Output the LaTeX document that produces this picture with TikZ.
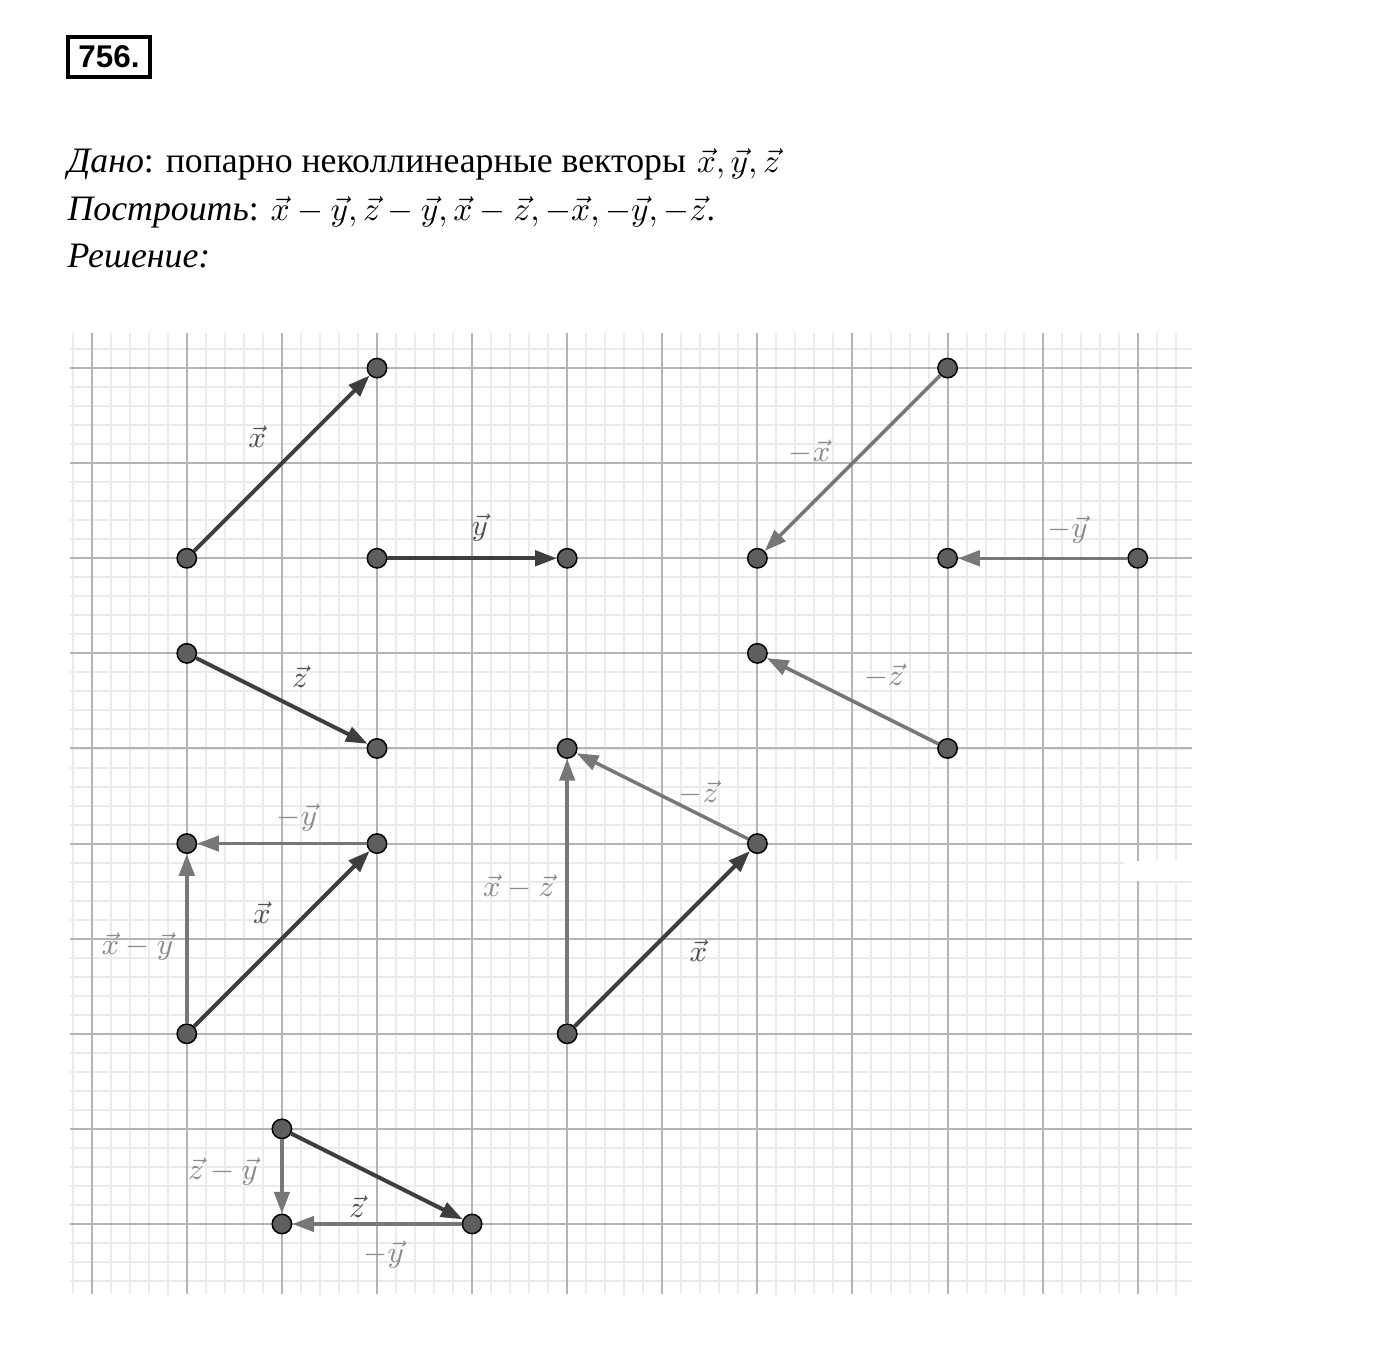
\documentclass[tikz,border=0pt]{standalone}
\usepackage{fontspec}
\setmainfont{Liberation Serif}
\newfontfamily\boxfont{Liberation Sans}
\usetikzlibrary{arrows.meta}
\definecolor{dk}{HTML}{3E3E3E}
\definecolor{lt}{HTML}{777777}
\definecolor{dklab}{HTML}{505050}
\definecolor{ltlab}{HTML}{8A8A8A}
\definecolor{ptc}{HTML}{5E5E5E}
\definecolor{minorc}{HTML}{EBEBEB}
\definecolor{majorc}{HTML}{B4B4B4}
\newcommand{\mathsz}{\fontsize{10.2}{12}\selectfont}
\tikzset{
  pnt/.style={circle, fill=ptc, draw=black, line width=0.45pt, inner sep=0pt, minimum size=5.8pt},
  dvec/.style={draw=dk, line width=1.2pt, -{Triangle[length=6.5pt,width=4.6pt]}},
  lvec/.style={draw=lt, line width=1.05pt, -{Triangle[length=6.5pt,width=4.6pt]}},
  dlab/.style={text=dklab, inner sep=0pt, font=\fontsize{8.8}{10}\selectfont},
  llab/.style={text=ltlab, inner sep=0pt, font=\fontsize{8.8}{10}\selectfont},
  minorgrid/.style={draw=minorc, line width=0.6pt},
  majorgrid/.style={draw=majorc, line width=0.6pt},
  headtext/.style={anchor=base west, inner sep=0pt, font=\fontsize{10.7}{12}\selectfont},
}
\begin{document}
\begin{tikzpicture}
\useasboundingbox[fill=white] (-0.9643,-1.4932) rectangle (13.7574,12.8707);
% header
\draw[line width=0.95pt] (-0.249,12.061) rectangle (0.613,12.482);
\node[inner sep=0pt, font=\boxfont\bfseries\fontsize{9.4}{10}\selectfont] (num) at (0.182,12.271) {756.};
\node[headtext] (l1) at (-0.26,11.062) {\textit{Дано}: попарно неколлинеарные векторы\hspace{0.3em}{\mathsz$\vec{x},\vec{y},\vec{z}$}};
\node[headtext] (l2) at (-0.26,10.557) {\textit{Построить}: {\mathsz$\vec{x}-\vec{y},\vec{z}-\vec{y},\vec{x}-\vec{z},-\vec{x},-\vec{y},-\vec{z}$.}};
\node[headtext] (l3) at (-0.26,10.053) {\textit{Решение:}};
% grid
\begin{scope}
\clip (-0.228,-0.736) rectangle (11.570,9.359);
\draw[minorgrid, step=0.2] (-0.4,-0.8) grid (11.8,9.6);
\draw[majorgrid, step=1] (-0.4,-0.8) grid (11.8,9.6);
\end{scope}
\fill[white] (10.854,3.607) rectangle (11.570,3.817);
% points
\node[pnt] (a1) at (1,7) {};
\node[pnt] (a2) at (3,9) {};
\node[pnt] (b1) at (3,7) {};
\node[pnt] (b2) at (5,7) {};
\node[pnt] (c1) at (9,9) {};
\node[pnt] (c2) at (7,7) {};
\node[pnt] (d1) at (11,7) {};
\node[pnt] (d2) at (9,7) {};
\node[pnt] (e1) at (1,6) {};
\node[pnt] (e2) at (3,5) {};
\node[pnt] (f1) at (9,5) {};
\node[pnt] (f2) at (7,6) {};
\node[pnt] (g1) at (1,2) {};
\node[pnt] (g2) at (3,4) {};
\node[pnt] (g3) at (1,4) {};
\node[pnt] (h1) at (5,2) {};
\node[pnt] (h2) at (7,4) {};
\node[pnt] (h3) at (5,5) {};
\node[pnt] (k1) at (2,1) {};
\node[pnt] (k2) at (4,0) {};
\node[pnt] (k3) at (2,0) {};
% vectors
\draw[dvec] (a1) -- (a2);
\draw[dvec] (b1) -- (b2);
\draw[lvec] (c1) -- (c2);
\draw[lvec] (d1) -- (d2);
\draw[dvec] (e1) -- (e2);
\draw[lvec] (f1) -- (f2);
\draw[dvec] (g1) -- (g2);
\draw[lvec] (g2) -- (g3);
\draw[lvec] (g1) -- (g3);
\draw[dvec] (h1) -- (h2);
\draw[lvec] (h2) -- (h3);
\draw[lvec] (h1) -- (h3);
\draw[dvec] (k1) -- (k2);
\draw[lvec] (k2) -- (k3);
\draw[lvec] (k1) -- (k3);
% labels
\node[dlab] (la) at (1.74,8.28) {$\vec{x}$};
\node[dlab] (lb) at (4.08,7.32) {$\vec{y}$};
\node[llab] (lc) at (7.55,8.12) {$-\vec{x}$};
\node[llab] (ld) at (10.26,7.30) {$-\vec{y}$};
\node[dlab] (le) at (2.19,5.75) {$\vec{z}$};
\node[llab] (lf) at (8.33,5.76) {$-\vec{z}$};
\node[llab] (lg1) at (2.16,4.27) {$-\vec{y}$};
\node[dlab] (lg2) at (1.79,3.27) {$\vec{x}$};
\node[llab] (lg3) at (0.48,2.92) {$\vec{x}-\vec{y}$};
\node[llab] (lh1) at (6.38,4.53) {$-\vec{z}$};
\node[llab] (lh2) at (4.49,3.54) {$\vec{x}-\vec{z}$};
\node[dlab] (lh3) at (6.38,2.87) {$\vec{x}$};
\node[llab] (lk1) at (1.38,0.55) {$\vec{z}-\vec{y}$};
\node[dlab] (lk2) at (2.79,0.18) {$\vec{z}$};
\node[llab] (lk3) at (3.07,-0.32) {$-\vec{y}$};
\end{tikzpicture}
\end{document}
